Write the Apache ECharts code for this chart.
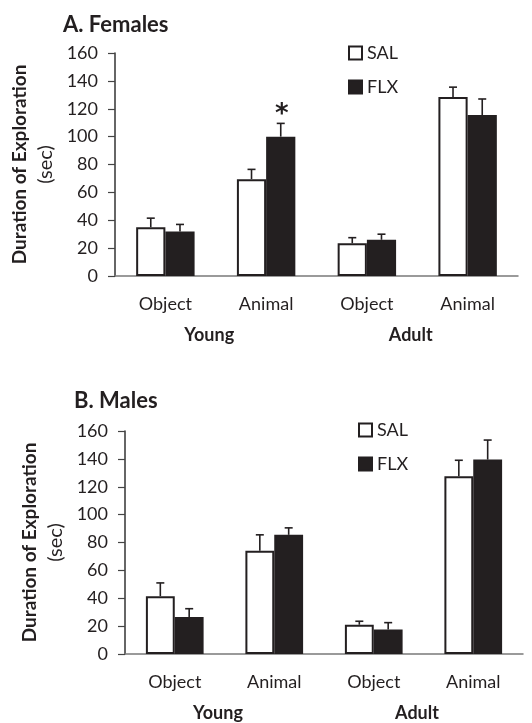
<!DOCTYPE html>
<html>
<head>
<meta charset="utf-8">
<script src="https://cdn.jsdelivr.net/npm/echarts@6/dist/echarts.min.js"></script>
<style>
  html, body { margin: 0; padding: 0; background: #fff; }
  #chart { width: 532px; height: 723px; }
</style>
</head>
<body>
<div id="chart"></div>
<script>
// Test conditions and age groups
const categories = ['Object', 'Animal', 'Object', 'Animal'];
const groups = ['Young', 'Adult'];
const yTicks = [0, 20, 40, 60, 80, 100, 120, 140, 160];

// Panel A: females, mean exploration time (sec) and SEM
const femaleSAL = [35, 69.5, 23.5, 128.5];
const femaleSALsem = [6.5, 7, 4, 7];
const femaleFLX = [32, 100, 26, 115.5];
const femaleFLXsem = [5, 9.5, 4, 11.5];
const femaleFLXsig = ['', '*', '', ''];

// Panel B: males
const maleSAL = [41.5, 74, 21, 127.5];
const maleSALsem = [9.5, 11.5, 2.5, 11.5];
const maleFLX = [26.5, 85.5, 17.5, 139.5];
const maleFLXsem = [6, 5, 5, 14];
const maleFLXsig = ['', '', '', ''];

const INK = '#231f20';
const FONT = 'Lato, "Open Sans", sans-serif';
const GAP = 0.42; // barCategoryGap as a fraction

const chart = echarts.init(document.getElementById('chart'), null, { renderer: 'canvas' });

function errSeries(name, gridIdx, means, sems, sig, side) {
  return {
    type: 'custom',
    name: name + ' err',
    xAxisIndex: gridIdx * 2,
    yAxisIndex: gridIdx * 2,
    z: 5,
    silent: true,
    data: means.map((m, i) => [i, m, m + sems[i], sig ? sig[i] : '']),
    renderItem(params, api) {
      const cw = api.size([1, 0])[0];
      const bw = cw * (1 - GAP) / 2;
      const base = api.coord([api.value(0), api.value(1)]);
      const top = api.coord([api.value(0), api.value(2)]);
      const x = base[0] + side * bw / 2;
      const cap = 4;
      const style = { stroke: INK, lineWidth: 1.6 };
      const children = [
        { type: 'line', shape: { x1: x, y1: base[1], x2: x, y2: top[1] }, style },
        { type: 'line', shape: { x1: x - cap, y1: top[1], x2: x + cap, y2: top[1] }, style }
      ];
      const s = api.value(3);
      if (s) {
        children.push({
          type: 'text',
          style: { text: s, x: x + 1, y: top[1] - 8, align: 'center', verticalAlign: 'middle',
                   font: 'bold 26px "DejaVu Sans", sans-serif', fill: INK }
        });
      }
      return { type: 'group', children };
    }
  };
}

function barSeries(name, gridIdx, values, fill) {
  return {
    type: 'bar',
    name,
    xAxisIndex: gridIdx * 2,
    yAxisIndex: gridIdx * 2,
    data: values,
    barGap: '0%',
    barCategoryGap: (GAP * 100) + '%',
    itemStyle: { color: fill, borderColor: INK, borderWidth: 2 },
    emphasis: { disabled: true }
  };
}

const grids = [
  { left: 115, right: 14, top: 53, height: 223 },
  { left: 125, right: 9, top: 431, height: 223 }
];

function xAxes(gridIdx) {
  return [
    {
      type: 'category', gridIndex: gridIdx, data: categories,
      axisLine: { lineStyle: { color: '#7a7a7a', width: 1.5 } },
      axisTick: { length: 7, lineStyle: { color: '#555', width: 1.2 } },
      axisLabel: { color: INK, fontFamily: FONT, fontSize: 18, margin: 19 }
    },
    {
      type: 'category', gridIndex: gridIdx, data: groups, position: 'bottom', offset: 42,
      axisLine: { show: false }, axisTick: { show: false },
      axisLabel: { color: INK, fontFamily: FONT, fontSize: 18, fontWeight: 'bold', margin: 8,
                   padding: [0, 13, 0, 0] }
    }
  ];
}

// Main value axis plus a bare companion axis that only carries the "(sec)" unit line
function yAxes(gridIdx) {
  return [
    {
      type: 'value', gridIndex: gridIdx, min: 0, max: 160, interval: 20,
      name: 'Duration of Exploration',
      nameLocation: 'middle', nameGap: 86, nameRotate: 90,
      nameTextStyle: { fontFamily: FONT, fontSize: 19, fontWeight: 'bold', color: INK },
      splitLine: { show: false },
      axisLine: { show: true, lineStyle: { color: '#333', width: 1.5 } },
      axisTick: { show: true, length: 7, lineStyle: { color: '#444', width: 1.2 } },
      axisLabel: {
        color: INK, fontFamily: FONT, fontSize: 18, margin: 17,
        formatter: v => (yTicks.includes(v) ? String(v) : '')
      }
    },
    {
      type: 'value', gridIndex: gridIdx, min: 0, max: 160, interval: 20, position: 'left',
      name: '(sec)',
      nameLocation: 'middle', nameGap: 59, nameRotate: 90,
      nameTextStyle: { fontFamily: FONT, fontSize: 20, fontWeight: 'normal', color: INK },
      splitLine: { show: false }, axisLine: { show: false },
      axisTick: { show: false }, axisLabel: { show: false }
    }
  ];
}

function legend(left, top) {
  return {
    orient: 'vertical', left, top, itemGap: 16, itemWidth: 13, itemHeight: 13, icon: 'rect',
    data: ['SAL', 'FLX'],
    textStyle: { color: INK, fontFamily: FONT, fontSize: 18 },
    selectedMode: false
  };
}

chart.setOption({
  animation: false,
  title: [
    { text: 'A. Females', left: 58, top: 9, textStyle: { fontFamily: FONT, fontSize: 22, fontWeight: 'bold', color: INK } },
    { text: 'B. Males', left: 69, top: 385, textStyle: { fontFamily: FONT, fontSize: 22, fontWeight: 'bold', color: INK } }
  ],
  legend: [legend(343, 39), legend(353, 416)],
  grid: grids,
  xAxis: [...xAxes(0), ...xAxes(1)],
  yAxis: [...yAxes(0), ...yAxes(1)],
  series: [
    barSeries('SAL', 0, femaleSAL, '#ffffff'),
    barSeries('FLX', 0, femaleFLX, INK),
    errSeries('SAL', 0, femaleSAL, femaleSALsem, null, -1),
    errSeries('FLX', 0, femaleFLX, femaleFLXsem, femaleFLXsig, 1),
    barSeries('SAL', 1, maleSAL, '#ffffff'),
    barSeries('FLX', 1, maleFLX, INK),
    errSeries('SAL', 1, maleSAL, maleSALsem, null, -1),
    errSeries('FLX', 1, maleFLX, maleFLXsem, maleFLXsig, 1)
  ]
});
</script>
</body>
</html>
